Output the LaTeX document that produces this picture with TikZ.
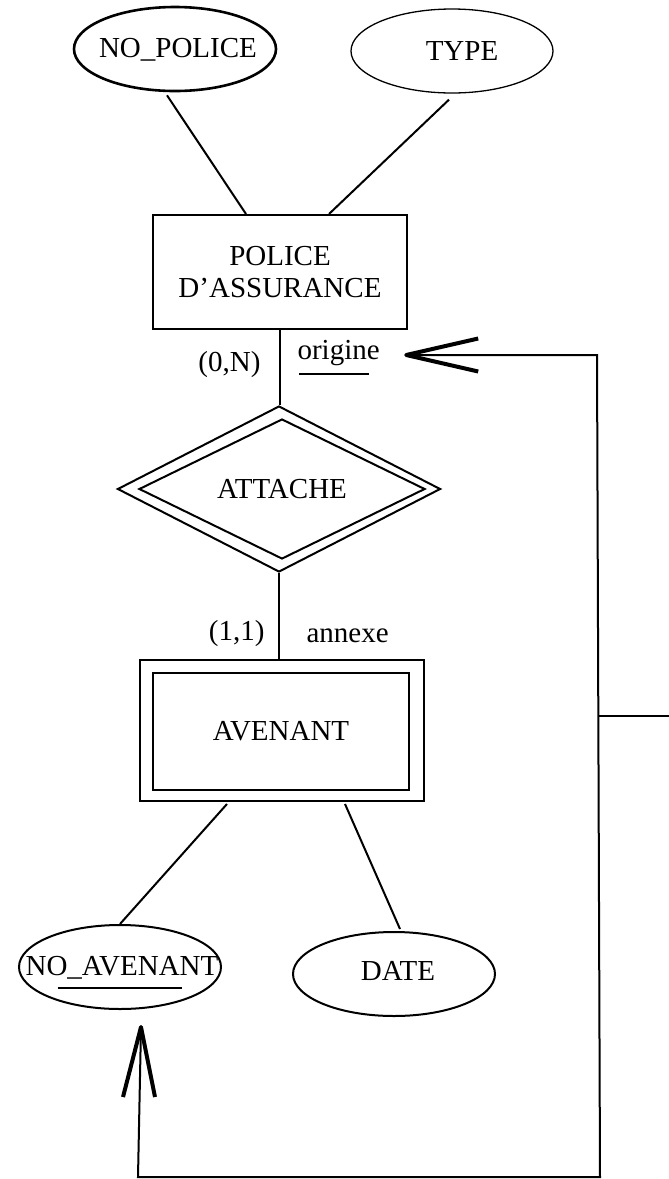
\documentclass[tikz,border=0pt]{standalone}
\usepackage{fontspec}
\setmainfont{Liberation Serif}
\usetikzlibrary{shapes.geometric,calc}
\begin{document}
\begin{tikzpicture}[x=1pt,y=-1pt,
  every node/.style={font=\fontsize{29}{32}\selectfont},
  conn/.style={line width=2pt},
  attr/.style={draw,ellipse,line width=2pt,minimum width=202pt,minimum height=84pt,inner sep=0pt},
  entity/.style={draw,rectangle,line width=2pt,inner sep=0pt},
  rel/.style={draw,diamond,aspect=2,line width=2pt,inner sep=0pt},
  barb/.style={line width=4pt,line join=round},
  uline/.style={line width=2pt}]
\useasboundingbox (0,0) rectangle (669,1179);

% attributes of POLICE D'ASSURANCE
\node[attr,line width=2.6pt] (nopolice) at (175,49) {};
\node[anchor=base] (nopoliceT) at (178,57) {NO\_POLICE};
\node[attr,line width=1.3pt] (type) at (452,51) {};
\node[anchor=base] (typeT) at (462,60) {TYPE};

% entity POLICE D'ASSURANCE
\node[entity,minimum width=254pt,minimum height=114pt,align=center] (police) at (280,272) {POLICE\\D’ASSURANCE};

% relationship ATTACHE (double diamond)
\node[rel,minimum width=323pt,minimum height=166pt] (attache) at (279,489) {};
\node[rel,minimum width=286pt,minimum height=140pt] (attacheIn) at (282,489) {ATTACHE};

% weak entity AVENANT (double rectangle)
\node[entity,minimum width=284pt,minimum height=141pt] (avenant) at (282,730.5) {};
\node[entity,line width=2.5pt,minimum width=256pt,minimum height=117pt] (avenantIn) at (281,731.5) {AVENANT};

% attributes of AVENANT
\node[attr] (noavenant) at (120,967) {};
\node[anchor=base] (noavenantT) at (122,975) {NO\_AVENANT};
\draw[uline] ($(noavenantT.base west)+(35.5,13)$) -- ($(noavenantT.base east)+(-39.5,13)$);
\node[attr] (date) at (394,974) {};
\node[anchor=base] (dateT) at (398,980) {DATE};

% cardinalities and roles
\node[anchor=base east] (card1) at (264,371) {(0,N)};
\node[anchor=base west] (role1) at (294,359) {origine};
\draw[uline] ($(role1.base west)+(5,15)$) -- ($(role1.base east)+(-14,15)$);
\node[anchor=base east] (card2) at (268,640) {(1,1)};
\node[anchor=base west] (role2) at (303,642) {annexe};

% connectors
\draw[conn] ($(nopolice.south)+(-8,3)$) -- ($(police.north west)+(94,0)$);
\draw[conn] ($(type.south)+(-3,6)$) -- ($(police.north west)+(177,0)$);
\draw[conn] (police.south) -- (police.south |- attache.north);
\draw[conn] (attache.south) -- (attache.south |- avenant.north);
\draw[conn] ($(avenant.south west)+(88,2)$) -- (noavenant.north);
\draw[conn] ($(avenant.south west)+(206,2)$) -- ($(date.north)+(6,-2)$);

% loop linking NO_AVENANT back to the role "origine"
\coordinate (tipA) at ($(role1.base east)+(23,-4)$);
\coordinate (tipB) at ($(noavenant.south)+(21,17)$);
\coordinate (loopBL) at (138,1177);
\coordinate (loopBR) at (600,1177);
\coordinate (loopTR) at (597,355);
\coordinate (branch) at (598.3,716);
\coordinate (exit) at (669,716);
\draw[conn] (tipB) -- (loopBL) -- (loopBR) -- (loopTR) -- (tipA);
\draw[conn] (branch) -- (exit);
\draw[barb] ($(tipA)+(72,-16.5)$) -- (tipA) -- ($(tipA)+(72,16.5)$);
\draw[barb] ($(tipB)+(-18,70)$) -- (tipB) -- ($(tipB)+(14,70)$);
\end{tikzpicture}
\end{document}
